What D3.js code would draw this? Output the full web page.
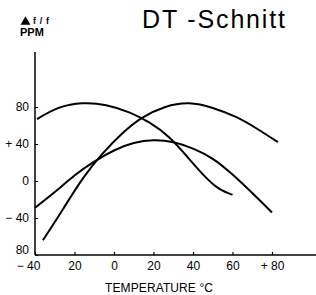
<!DOCTYPE html>
<html>
<head>
<meta charset="utf-8">
<script src="https://cdn.jsdelivr.net/npm/d3@7"></script>
<style>
  body { margin: 0; background: #fff; }
  svg { display: block; font-family: "Liberation Sans", Arial, sans-serif; }
</style>
</head>
<body>
<div id="chart"></div>
<script>
// curves: temperature (°C) and Δf/f (ppm)
const tempA = [-39, -28, -16, -4, 8, 18, 28, 38, 46, 53, 60];
const ppmA  = [67, 79, 84, 82, 74, 63, 47, 24, 5, -8, -15];
const tempB = [-36, -26, -16, -6, 4, 14, 26, 38, 50, 62, 72, 83];
const ppmB  = [-64, -31, 2, 29, 51, 68, 80, 84, 79, 69, 57, 42];
const tempC = [-40, -30, -20, -10, 0, 10, 20, 30, 40, 50, 60, 70, 80];
const ppmC  = [-29, -12, 6, 21, 33, 41, 44, 42, 35, 24, 7, -13, -34];

const xTicks = [-40, -20, 0, 20, 40, 60, 80];
const xTickLabels = ["\u2212 40", "20", "0", "20", "40", "60", "+ 80"];
const yTicks = [-80, -40, 0, 40, 80];
const yTickLabels = ["80", "\u2212 40", "0", "+ 40", "80"];

const svg = d3.select("#chart").append("svg")
    .attr("width", 316).attr("height", 295);

const x = d3.scaleLinear().domain([-40, 80]).range([35, 272]);
const y = d3.scaleLinear().domain([-80, 80]).range([255, 107]);

// x axis, ticks pointing up
const xAxis = d3.axisBottom(x).tickValues(xTicks).tickSize(-3).tickPadding(6)
    .tickFormat((d, i) => xTickLabels[i]);
svg.append("g")
    .attr("transform", "translate(0,255)")
    .call(xAxis)
    .call(g => g.select(".domain").remove())
    .call(g => g.selectAll("line").attr("stroke", "#000").attr("stroke-width", 1.2))
    .call(g => g.selectAll("text").style("font-size", "12px").attr("fill", "#000"))
    .call(g => g.selectAll("text").filter((d, i) => i == 0).attr("dx", -7));

svg.append("line")
    .attr("x1", 35).attr("x2", 316).attr("y1", 255).attr("y2", 255)
    .attr("stroke", "#000").attr("stroke-width", 1.5);

// y axis, small ticks pointing right
const yAxis = d3.axisLeft(y).tickValues(yTicks).tickSize(-3).tickPadding(6)
    .tickFormat((d, i) => yTickLabels[i]);
svg.append("g")
    .attr("transform", "translate(35,0)")
    .call(yAxis)
    .call(g => g.select(".domain").remove())
    .call(g => g.selectAll("line").attr("stroke", "#000").attr("stroke-width", 1))
    .call(g => g.selectAll("text").style("font-size", "12px").attr("fill", "#000"))
    .call(g => g.selectAll("text").filter(d => d == -80).attr("dy", "-0.1em"));

svg.append("line")
    .attr("x1", 35).attr("x2", 35).attr("y1", 52).attr("y2", 255)
    .attr("stroke", "#000").attr("stroke-width", 1.5);

const line = d3.line()
    .x(d => x(d[0]))
    .y(d => y(d[1]))
    .curve(d3.curveNatural);

const curves = [
    d3.zip(tempA, ppmA),
    d3.zip(tempB, ppmB),
    d3.zip(tempC, ppmC)
];

svg.selectAll(".curve")
    .data(curves)
    .join("path")
    .attr("class", "curve")
    .attr("d", line)
    .attr("fill", "none")
    .attr("stroke", "#000")
    .attr("stroke-width", 2);

// labels
svg.append("text")
    .attr("x", 142).attr("y", 28)
    .attr("textLength", 143)
    .style("font-size", "25px")
    .text("DT  -Schnitt");

// delta sign as a drawn triangle
svg.append("path")
    .attr("d", d3.symbol(d3.symbolTriangle, 42)())
    .attr("transform", "translate(25.5,22)")
    .attr("fill", "#000");
svg.append("text")
    .attr("x", 33).attr("y", 24)
    .attr("textLength", 16)
    .style("font-size", "9px")
    .style("font-weight", "bold")
    .text("f/f");
svg.append("text")
    .attr("x", 20).attr("y", 36)
    .style("font-size", "11px")
    .style("font-weight", "bold")
    .text("PPM");

svg.append("text")
    .attr("x", 105).attr("y", 292)
    .attr("textLength", 108)
    .style("font-size", "12px")
    .text("TEMPERATURE \u00B0C");
</script>
</body>
</html>
